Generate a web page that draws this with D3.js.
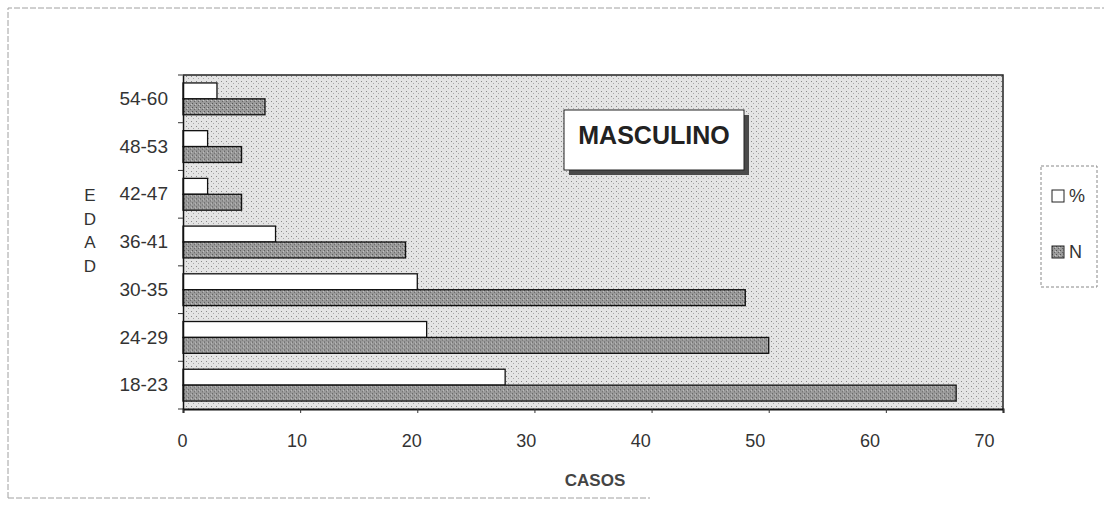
<!DOCTYPE html>
<html>
<head>
<meta charset="utf-8">
<script src="https://cdn.jsdelivr.net/npm/d3@7/dist/d3.min.js"></script>
<style>
  body { margin: 0; background: #fff; }
  svg { display: block; font-family: "Liberation Sans", Arial, sans-serif; }
</style>
</head>
<body>
<svg id="chart" width="1104" height="510"></svg>
<script>
// data
const categories = ["18-23", "24-29", "30-35", "36-41", "42-47", "48-53", "54-60"];
const seriesNames = ["%", "N"];
const valuesPct = [27.5, 20.8, 20.0, 7.9, 2.1, 2.1, 2.9];
const valuesN = [66, 50, 48, 19, 5, 5, 7];
const xTicks = [0, 10, 20, 30, 40, 50, 60, 70];
const yTitle = ["E", "D", "A", "D"];

const svg = d3.select("#chart");
const defs = svg.append("defs");

// halftone-ish background of the plot area
const bg = defs.append("pattern")
  .attr("id", "dots")
  .attr("width", 5).attr("height", 5)
  .attr("patternUnits", "userSpaceOnUse");
bg.append("rect").attr("width", 5).attr("height", 5).attr("fill", "#e4e4e4");
bg.append("rect").attr("x", 1).attr("y", 1).attr("width", 1).attr("height", 1).attr("fill", "#8a8a8a");
bg.append("rect").attr("x", 3).attr("y", 3).attr("width", 1).attr("height", 1).attr("fill", "#a8a8a8");

const dark = defs.append("pattern")
  .attr("id", "darkfill")
  .attr("width", 4).attr("height", 4)
  .attr("patternUnits", "userSpaceOnUse");
dark.append("rect").attr("width", 4).attr("height", 4).attr("fill", "#9a9a9a");
dark.append("rect").attr("x", 0).attr("y", 0).attr("width", 1).attr("height", 1).attr("fill", "#555");
dark.append("rect").attr("x", 2).attr("y", 2).attr("width", 1).attr("height", 1).attr("fill", "#666");
dark.append("rect").attr("x", 3).attr("y", 1).attr("width", 1).attr("height", 1).attr("fill", "#c8c8c8");

// outer frame (light dashed like the scan)
svg.append("path")
  .attr("d", "M8,498 L8,8 L1104,8")
  .attr("fill", "none")
  .attr("stroke", "#a0a0a0")
  .attr("stroke-dasharray", "6,2");
svg.append("line")
  .attr("x1", 8).attr("x2", 650).attr("y1", 498).attr("y2", 498)
  .attr("stroke", "#a0a0a0")
  .attr("stroke-dasharray", "6,2");

const x = d3.scaleLinear().domain([0, 70]).range([183, 1003]);
// printed tick labels sit slightly tighter than the ticks on the scan
const xLabel = d3.scaleLinear().domain([0, 70]).range([182, 984]);
const y = d3.scaleBand().domain(categories.slice().reverse()).range([75, 409]);
const ySub = d3.scaleBand().domain(seriesNames).range([0, y.bandwidth()]).paddingOuter(0.5);

const plotTop = y.range()[0], plotBottom = y.range()[1];

svg.append("rect")
  .attr("x", x(0)).attr("y", plotTop)
  .attr("width", x(70) - x(0)).attr("height", plotBottom - plotTop)
  .attr("fill", "url(#dots)");

// bars
const rows = categories.map((c, i) => ({ cat: c, vals: [valuesPct[i], valuesN[i]] }));
const groups = svg.selectAll("g.row")
  .data(rows)
  .enter()
  .append("g")
  .attr("class", "row")
  .attr("transform", d => `translate(0,${y(d.cat)})`);

groups.selectAll("rect")
  .data(d => d.vals.map((v, j) => ({ key: seriesNames[j], v })))
  .enter()
  .append("rect")
  .attr("x", x(0))
  .attr("y", d => ySub(d.key))
  .attr("width", d => x(d.v) - x(0))
  .attr("height", ySub.bandwidth())
  .attr("fill", d => d.key === "%" ? "#ffffff" : "url(#darkfill)")
  .attr("stroke", "#111")
  .attr("stroke-width", 1.3);

// plot frame
svg.append("path")
  .attr("d", `M${x(0)},${plotTop} L${x(70)},${plotTop} L${x(70)},${plotBottom}`)
  .attr("fill", "none").attr("stroke", "#222").attr("stroke-width", 1.5);

// x axis
const xAxis = svg.append("g")
  .attr("transform", `translate(0,${plotBottom})`)
  .call(d3.axisBottom(x).tickValues(xTicks).tickSize(4).tickPadding(21));
xAxis.select(".domain").attr("stroke", "#111").attr("stroke-width", 2);
xAxis.selectAll("line").attr("stroke", "#333");
xAxis.selectAll(".tick text")
  .attr("x", d => xLabel(d) - x(d))
  .attr("font-size", 18).attr("fill", "#333");

// y axis
const yAxis = svg.append("g")
  .attr("transform", `translate(${x(0)},0)`)
  .call(d3.axisLeft(y).tickSize(0).tickPadding(15));
yAxis.select(".domain").attr("stroke", "#111").attr("stroke-width", 1.5);
yAxis.selectAll("text").attr("font-size", 19).attr("fill", "#333");

// boundary ticks between categories
const bounds = y.domain().map(c => y(c)).concat([plotBottom]);
svg.selectAll("line.ytick")
  .data(bounds)
  .enter()
  .append("line")
  .attr("class", "ytick")
  .attr("x1", x(0) - 5).attr("x2", x(0))
  .attr("y1", d => d).attr("y2", d => d)
  .attr("stroke", "#333");

// axis titles
svg.append("text")
  .attr("x", 595).attr("y", 486)
  .attr("text-anchor", "middle")
  .attr("font-size", 17).attr("font-weight", "bold").attr("fill", "#444")
  .text("CASOS");

svg.selectAll("text.ytitle")
  .data(yTitle)
  .enter()
  .append("text")
  .attr("class", "ytitle")
  .attr("x", 90)
  .attr("y", (d, i) => 201 + i * 23.5)
  .attr("text-anchor", "middle")
  .attr("font-size", 17).attr("fill", "#333")
  .text(d => d);

// MASCULINO label box with shadow
svg.append("rect")
  .attr("x", 569).attr("y", 115).attr("width", 180).attr("height", 60)
  .attr("fill", "#4a4a4a");
svg.append("rect")
  .attr("x", 564).attr("y", 110).attr("width", 180).attr("height", 60)
  .attr("fill", "#fff").attr("stroke", "#222").attr("stroke-width", 1);
svg.append("text")
  .attr("x", 654).attr("y", 144)
  .attr("text-anchor", "middle")
  .attr("font-size", 25).attr("font-weight", "bold").attr("fill", "#222")
  .text("MASCULINO");

// legend
const legend = svg.append("g").attr("transform", "translate(1041,166)");
legend.append("rect")
  .attr("width", 56).attr("height", 121)
  .attr("fill", "#fff").attr("stroke", "#888").attr("stroke-dasharray", "3,2");
const items = legend.selectAll("g.item")
  .data(seriesNames)
  .enter()
  .append("g")
  .attr("class", "item")
  .attr("transform", (d, i) => `translate(11,${24 + i * 56})`);
items.append("rect")
  .attr("width", 12).attr("height", 12)
  .attr("fill", d => d === "%" ? "#fff" : "url(#darkfill)")
  .attr("stroke", "#222");
items.append("text")
  .attr("x", 17).attr("y", 12)
  .attr("font-size", 18).attr("fill", "#333")
  .text(d => d);
</script>
</body>
</html>
